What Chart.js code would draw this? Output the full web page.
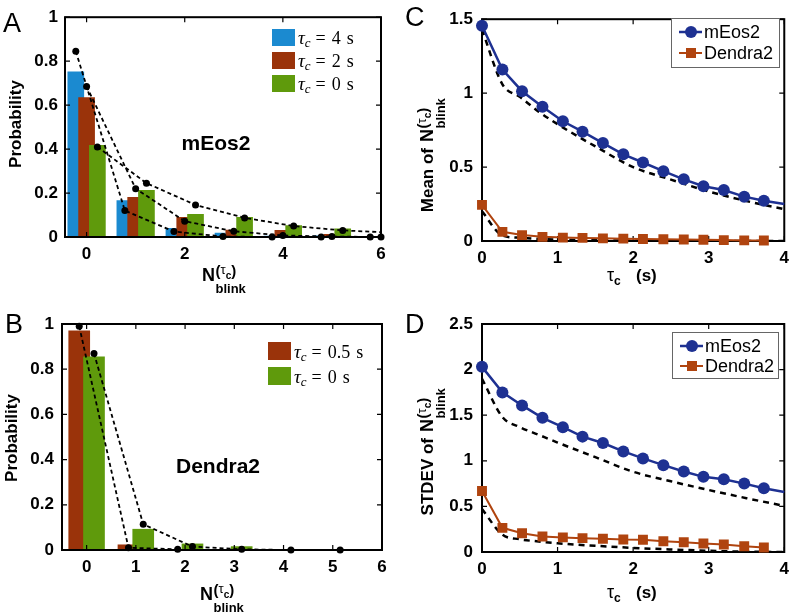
<!DOCTYPE html>
<html lang="en">
<head>
<meta charset="UTF-8">
<title>Blinking statistics</title>
<script src="https://cdn.jsdelivr.net/npm/chart.js@4.4.0/dist/chart.umd.min.js"></script>
<style>
  body { margin: 0; background: #fff; }
  .wrap { position: relative; width: 796px; height: 614px; overflow: hidden; }
  canvas { position: absolute; }
</style>
</head>
<body>
<div class="wrap">
  <canvas id="chart-a" width="398" height="300" style="left:0;top:0"></canvas>
  <canvas id="chart-b" width="398" height="314" style="left:0;top:300px"></canvas>
  <canvas id="chart-c" width="398" height="300" style="left:398px;top:0"></canvas>
  <canvas id="chart-d" width="398" height="314" style="left:398px;top:300px"></canvas>
</div>
<script>
const SANS = '"Liberation Sans", Arial, Helvetica, sans-serif';
const SERIF = '"Liberation Serif", "DejaVu Serif", serif';

// panel A - mEos2 histograms (bars) and model (dashed)
const nBarsA = [0, 1, 2, 3, 4, 5];
const probA4 = [0.752, 0.166, 0.039, 0.018, 0.004, 0.005];
const probA2 = [0.634, 0.181, 0.089, 0.032, 0.03, 0.012];
const probA0 = [0.417, 0.212, 0.103, 0.09, 0.052, 0.037];
const nModelA = [0, 1, 2, 3, 4, 5, 6];
const modelA4 = [0.845, 0.12, 0.025, 0.002, 0, 0, 0];
const modelA2 = [0.685, 0.22, 0.072, 0.026, 0.007, 0.002, 0];
const modelA0 = [0.41, 0.245, 0.146, 0.087, 0.05, 0.03, 0.02];
const legendA = ['4', '2', '0'];
const xTicksA = [0, 2, 4, 6];

// panel B - Dendra2
const nBarsB = [0, 1, 2, 3];
const probB05 = [0.97, 0.023, 0, 0];
const probB0 = [0.855, 0.092, 0.027, 0.015];
const nModelB05 = [0, 1, 2];
const modelB05 = [0.99, 0.01, 0.003];
const nModelB0 = [0, 1, 2, 3, 4, 5];
const modelB0 = [0.87, 0.114, 0.015, 0.003, 0, 0];
const legendB = ['0.5', '0'];
const xTicksB = [0, 1, 2, 3, 4, 5, 6];
const yTicksProb = [0, 0.2, 0.4, 0.6, 0.8, 1];

// panels C and D - mean / stdev vs tau_c
const tau = [0, 0.27, 0.53, 0.8, 1.07, 1.33, 1.6, 1.87, 2.13, 2.4, 2.67, 2.93, 3.2, 3.47, 3.73, 4];
const meanMEos2 = [1.456, 1.16, 1.013, 0.908, 0.81, 0.739, 0.662, 0.586, 0.531, 0.472, 0.417, 0.37, 0.345, 0.30, 0.272, 0.25];
const meanDendra2 = [0.244, 0.062, 0.04, 0.028, 0.023, 0.021, 0.018, 0.016, 0.014, 0.012, 0.01, 0.008, 0.006, 0.004, 0.003];
const sdMEos2 = [2.03, 1.75, 1.607, 1.471, 1.368, 1.265, 1.195, 1.103, 1.026, 0.952, 0.883, 0.824, 0.798, 0.75, 0.699, 0.658];
const sdDendra2 = [0.669, 0.265, 0.205, 0.17, 0.16, 0.152, 0.145, 0.137, 0.135, 0.118, 0.107, 0.094, 0.082, 0.063, 0.05];
const tauModel = [0, 0.27, 0.5, 0.75, 1, 1.5, 2, 2.5, 3, 3.5, 4];
const meanModelMEos2 = [1.43, 1.06, 0.975, 0.875, 0.79, 0.64, 0.5, 0.415, 0.335, 0.27, 0.215];
const meanModelDendra2 = [0.2, 0.037, 0.022, 0.015, 0.01, 0.005, 0.002, 0, 0, 0, 0];
const sdModelMEos2 = [1.9, 1.48, 1.37, 1.285, 1.2, 1.04, 0.88, 0.775, 0.68, 0.59, 0.505];
const sdModelDendra2 = [0.47, 0.19, 0.14, 0.115, 0.095, 0.068, 0.045, 0.028, 0.013, 0.004, 0];
const xTicksTau = [0, 1, 2, 3, 4];
const yTicksMean = [0, 0.5, 1, 1.5];
const yTicksSd = [0, 0.5, 1, 1.5, 2, 2.5];

const BLUE_BAR = '#1b8ad0', RED_BAR = '#9a330a', GREEN_BAR = '#5f9a0c';
const BLUE_LINE = '#1e3192', ORANGE_LINE = '#b0440f';

Chart.defaults.font.family = SANS;
Chart.defaults.color = '#000';
Chart.defaults.animation = false;
Chart.defaults.events = [];
Chart.defaults.plugins.legend.display = false;
Chart.defaults.plugins.tooltip.enabled = false;

const pts = (xs, ys, off) => ys.map((v, i) => ({ x: xs[i] + (off || 0), y: v }));

function axis(min, max, ticks, size, pad, isX) {
  return {
    type: 'linear', min, max, offset: false,
    grid: { display: false, drawTicks: false, offset: false },
    border: { display: false },
    afterBuildTicks: s => { s.ticks = ticks.map(v => ({ value: v })); },
    afterFit: s => { if (isX) s.height = size; else s.width = size; },
    ticks: {
      padding: pad, color: '#000', autoSkip: false, maxRotation: 0, minRotation: 0,
      font: { size: 17, weight: 'bold' },
      callback: v => String(+v.toFixed(2))
    }
  };
}

function drawFrame(chart) {
  const { ctx, chartArea: a } = chart;
  const { x, y } = chart.scales;
  ctx.save();
  ctx.strokeStyle = '#000';
  ctx.lineWidth = 1.2;
  ctx.beginPath();
  x.ticks.forEach(t => {
    const px = x.getPixelForValue(t.value);
    ctx.moveTo(px, a.top); ctx.lineTo(px, a.top + 5);
    ctx.moveTo(px, a.bottom); ctx.lineTo(px, a.bottom - 5);
  });
  y.ticks.forEach(t => {
    const py = y.getPixelForValue(t.value);
    ctx.moveTo(a.left, py); ctx.lineTo(a.left + 5, py);
    ctx.moveTo(a.right, py); ctx.lineTo(a.right - 5, py);
  });
  ctx.stroke();
  ctx.lineWidth = 2;
  ctx.strokeRect(a.left, a.top, a.width, a.height);
  ctx.restore();
}
const frameAfter = { id: 'frameAfter', afterDatasetsDraw: drawFrame };
const frameBefore = { id: 'frameBefore', beforeDatasetsDraw: drawFrame };

// N^(tau_c)_blink, origin = left of N on its baseline
function drawNBlink(ctx) {
  ctx.textAlign = 'left';
  ctx.textBaseline = 'alphabetic';
  ctx.font = 'bold 18px ' + SANS;
  ctx.fillText('N', 0, 0);
  const x0 = ctx.measureText('N').width + 0.5;
  ctx.font = 'bold 13px ' + SANS;
  ctx.fillText('blink', x0, 12);
  ctx.font = 'bold 15px ' + SANS;
  ctx.fillText('(', x0, -5);
  let x = x0 + ctx.measureText('(').width;
  ctx.font = '13px ' + SANS;
  ctx.fillText('τ', x, -7);
  x += ctx.measureText('τ').width;
  ctx.font = 'bold 10px ' + SANS;
  ctx.fillText('c', x, -2);
  x += ctx.measureText('c').width;
  ctx.font = 'bold 15px ' + SANS;
  ctx.fillText(')', x, -5);
}

function letter(ctx, s, x, y) {
  ctx.font = '27px ' + SANS;
  ctx.textAlign = 'left';
  ctx.textBaseline = 'alphabetic';
  ctx.fillText(s, x, y);
}

function probTitle(ctx, x, y) {
  ctx.save();
  ctx.translate(x, y);
  ctx.rotate(-Math.PI / 2);
  ctx.font = 'bold 17px ' + SANS;
  ctx.textAlign = 'center';
  ctx.textBaseline = 'middle';
  ctx.fillText('Probability', 0, 0);
  ctx.restore();
}

function nTitleRot(ctx, prefix, x, yN) {
  ctx.save();
  ctx.translate(x, yN);
  ctx.rotate(-Math.PI / 2);
  ctx.font = 'bold 17px ' + SANS;
  ctx.textAlign = 'right';
  ctx.textBaseline = 'alphabetic';
  ctx.fillText(prefix, -6, 0);
  drawNBlink(ctx);
  ctx.restore();
}

function tauTitle(ctx, x, y) {
  ctx.textAlign = 'left';
  ctx.textBaseline = 'alphabetic';
  ctx.font = '18px ' + SANS;
  ctx.fillText('τ', x, y);
  const w = ctx.measureText('τ').width;
  ctx.font = 'bold 12px ' + SANS;
  ctx.fillText('c', x + w, y + 4);
  ctx.font = 'bold 17px ' + SANS;
  ctx.fillText('(s)', x + 29, y);
}

function barLegend(ctx, x, tops, h, colors, values) {
  values.forEach((v, i) => {
    const top = tops[i];
    ctx.fillStyle = '#fff';
    ctx.fillRect(x - 2, top - 2, 92, h + 4);
    ctx.fillStyle = colors[i];
    ctx.fillRect(x, top, 23, h);
    ctx.fillStyle = '#000';
    const y = top + h - 2;
    let tx = x + 26;
    ctx.textAlign = 'left';
    ctx.textBaseline = 'alphabetic';
    ctx.font = 'italic 19px ' + SERIF;
    ctx.fillText('τ', tx, y);
    tx += ctx.measureText('τ').width;
    ctx.font = 'italic 13px ' + SERIF;
    ctx.fillText('c', tx, y + 3);
    tx += ctx.measureText('c').width + 5;
    ctx.font = '18px ' + SERIF;
    ctx.fillText('=', tx, y);
    tx += ctx.measureText('=').width + 6;
    ctx.fillText(v, tx, y);
    tx += ctx.measureText(v).width + 6;
    ctx.fillText('s', tx, y);
  });
}

function lineLegend(ctx, box, rows) {
  ctx.fillStyle = '#fff';
  ctx.fillRect(box.x, box.y, box.w, box.h);
  ctx.strokeStyle = '#666';
  ctx.lineWidth = 1;
  ctx.strokeRect(box.x + 0.5, box.y + 0.5, box.w, box.h);
  rows.forEach(r => {
    ctx.strokeStyle = r.color;
    ctx.fillStyle = r.color;
    ctx.lineWidth = r.width;
    ctx.beginPath();
    ctx.moveTo(box.x + 8, r.y);
    ctx.lineTo(box.x + 31, r.y);
    ctx.stroke();
    const mx = box.x + 20;
    if (r.style === 'circle') {
      ctx.beginPath();
      ctx.arc(mx, r.y, 6, 0, Math.PI * 2);
      ctx.fill();
    } else {
      ctx.fillRect(mx - 5, r.y - 5, 10, 10);
    }
    ctx.fillStyle = '#000';
    ctx.font = '18px ' + SANS;
    ctx.textAlign = 'left';
    ctx.textBaseline = 'alphabetic';
    ctx.fillText(r.label, box.x + 33, r.y + 6);
  });
}

function barSet(label, xs, ys, off, color, order, thick) {
  return {
    type: 'bar', label, data: pts(xs, ys, off), backgroundColor: color,
    borderWidth: 0, barThickness: thick, grouped: false, order
  };
}
function modelSet(xs, ys, off, clipRight) {
  return {
    type: 'line', data: pts(xs, ys, off), borderColor: '#000', backgroundColor: '#000',
    borderWidth: 1.8, borderDash: [4, 3], pointRadius: 3.5, pointBorderWidth: 0,
    tension: 0, order: 0, clip: { left: 6, top: 6, bottom: 6, right: clipRight }
  };
}

// ---- A ----
const offA = [-0.22, 0, 0.22];
new Chart(document.getElementById('chart-a'), {
  type: 'bar',
  data: {
    datasets: [
      barSet('τc = 4 s', nBarsA, probA4, offA[0], BLUE_BAR, 3, 16),
      barSet('τc = 2 s', nBarsA, probA2, offA[1], RED_BAR, 2, 16),
      barSet('τc = 0 s', nBarsA, probA0, offA[2], GREEN_BAR, 1, 16),
      modelSet(nModelA, modelA4, offA[0], 6),
      modelSet(nModelA, modelA2, offA[1], 6),
      modelSet(nModelA, modelA0, offA[2], 0)
    ]
  },
  options: {
    responsive: false, devicePixelRatio: 1,
    layout: { padding: { top: 11, right: 17, left: 0, bottom: 0 } },
    scales: { x: axis(-0.44, 6, xTicksA, 63, 7, true), y: axis(0, 1, yTicksProb, 65, 7, false) }
  },
  plugins: [frameAfter, { id: 'decorA', afterDraw(c) {
    const ctx = c.ctx;
    ctx.save();
    ctx.fillStyle = '#000';
    letter(ctx, 'A', 3, 32);
    probTitle(ctx, 16, 124);
    ctx.save(); ctx.translate(202, 281); drawNBlink(ctx); ctx.restore();
    ctx.font = 'bold 21px ' + SANS;
    ctx.textAlign = 'center';
    ctx.fillText('mEos2', 216, 150);
    barLegend(ctx, 272, [29, 52, 75], 17, [BLUE_BAR, RED_BAR, GREEN_BAR], legendA);
    ctx.restore();
  } }]
});

// ---- B ----
const offB = [-0.15, 0.15];
new Chart(document.getElementById('chart-b'), {
  type: 'bar',
  data: {
    datasets: [
      barSet('τc = 0.5 s', nBarsB, probB05, offB[0], RED_BAR, 2, 21),
      barSet('τc = 0 s', nBarsB, probB0, offB[1], GREEN_BAR, 1, 21),
      modelSet(nModelB05, modelB05, offB[0], 6),
      modelSet(nModelB0, modelB0, offB[1], 6)
    ]
  },
  options: {
    responsive: false, devicePixelRatio: 1,
    layout: { padding: { top: 24, right: 16, left: 0, bottom: 0 } },
    scales: { x: axis(-0.5, 6, xTicksB, 64, 7, true), y: axis(0, 1, yTicksProb, 62, 8, false) }
  },
  plugins: [frameAfter, { id: 'decorB', afterDraw(c) {
    const ctx = c.ctx;
    ctx.save();
    ctx.fillStyle = '#000';
    letter(ctx, 'B', 5, 33);
    probTitle(ctx, 12, 138);
    ctx.save(); ctx.translate(200, 300); drawNBlink(ctx); ctx.restore();
    ctx.font = 'bold 21px ' + SANS;
    ctx.textAlign = 'center';
    ctx.fillText('Dendra2', 218, 173);
    barLegend(ctx, 268, [42, 67], 18, [RED_BAR, GREEN_BAR], legendB);
    ctx.restore();
  } }]
});

// ---- C / D ----
function tauChart(id, mEos, dendra, modelM, modelD, yMax, yTicks, top, xH, decor) {
  const n = tau.length;
  return new Chart(document.getElementById(id), {
    type: 'line',
    data: {
      datasets: [
        { label: 'mEos2', data: pts(tau, mEos), borderColor: BLUE_LINE, backgroundColor: BLUE_LINE,
          borderWidth: 2.5, pointStyle: 'circle', pointBorderWidth: 0,
          pointRadius: ctx => ctx.dataIndex === n - 1 ? 0 : 6, order: 0, clip: 8 },
        { label: 'Dendra2', data: pts(tau, dendra), borderColor: ORANGE_LINE, backgroundColor: ORANGE_LINE,
          borderWidth: 2, pointStyle: 'rect', pointRadius: 7, pointBorderWidth: 0, order: 0, clip: 8 },
        { data: pts(tauModel, modelM), borderColor: '#000', borderWidth: 2.5, borderDash: [6, 5],
          pointRadius: 0, cubicInterpolationMode: 'monotone', order: 1 },
        { data: pts(tauModel, modelD), borderColor: '#000', borderWidth: 2.5, borderDash: [6, 5],
          pointRadius: 0, cubicInterpolationMode: 'monotone', order: 1 }
      ]
    },
    options: {
      responsive: false, devicePixelRatio: 1,
      layout: { padding: { top, right: 8, left: 0, bottom: 0 } },
      scales: { x: axis(0, 4, xTicksTau, xH, 7, true), y: axis(0, yMax, yTicks, 84, 9, false) }
    },
    plugins: [frameBefore, { id: 'decor' + id, afterDraw(c) {
      const ctx = c.ctx;
      ctx.save();
      ctx.fillStyle = '#000';
      decor(ctx, c);
      ctx.restore();
    } }]
  });
}

function rowsFor(c, ys) {
  const ds = c.data.datasets;
  return [
    { label: ds[0].label, color: BLUE_LINE, width: 2.5, style: 'circle', y: ys[0] },
    { label: ds[1].label, color: ORANGE_LINE, width: 2, style: 'rect', y: ys[1] }
  ];
}

tauChart('chart-c', meanMEos2, meanDendra2, meanModelMEos2, meanModelDendra2, 1.5, yTicksMean, 12, 59, (ctx, c) => {
  letter(ctx, 'C', 7, 26);
  nTitleRot(ctx, 'Mean of', 35, 142);
  tauTitle(ctx, 209, 281);
  lineLegend(ctx, { x: 273, y: 18, w: 108, h: 49 }, rowsFor(c, [32, 53]));
});

tauChart('chart-d', sdMEos2, sdDendra2, sdModelMEos2, sdModelDendra2, 2.5, yTicksSd, 24, 62, (ctx, c) => {
  letter(ctx, 'D', 7, 33);
  nTitleRot(ctx, 'STDEV of', 35, 132);
  tauTitle(ctx, 209, 298);
  lineLegend(ctx, { x: 274, y: 32, w: 106, h: 46 }, rowsFor(c, [46, 66]));
});
</script>
</body>
</html>
